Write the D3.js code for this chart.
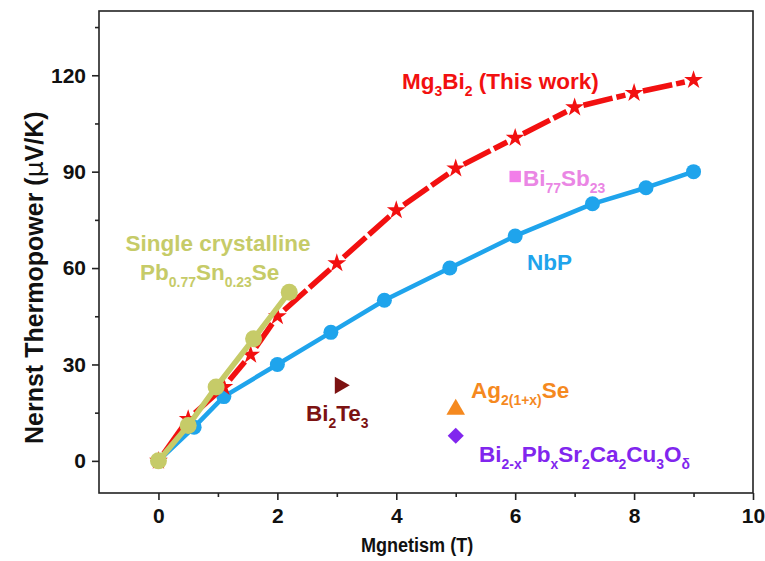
<!DOCTYPE html>
<html>
<head>
<meta charset="utf-8">
<script src="https://cdn.jsdelivr.net/npm/d3@7"></script>
<style>
  html, body { margin: 0; padding: 0; background: #fff; }
  svg { display: block; font-family: "Liberation Sans", Arial, sans-serif; font-weight: bold; }
</style>
</head>
<body>
<svg id="chart" width="765" height="561"></svg>
<script>
// Field (T) and Nernst thermopower (µV/K) for each material
const mg3bi2Field = [0, 0.5, 1.1, 1.55, 2, 3, 4, 5, 6, 7, 8, 9];
const mg3bi2Nernst = [0, 13, 23, 33, 45, 61.5, 78, 91, 100.5, 110, 114.5, 118.5];

const nbpField = [0, 0.6, 1.1, 2, 2.9, 3.8, 4.9, 6, 7.3, 8.2, 9];
const nbpNernst = [0, 10.5, 20, 30, 40, 50, 60, 70, 80, 85, 90];

const pbsnseField = [0, 0.5, 0.97, 1.6, 2.2];
const pbsnseNernst = [0, 11, 23, 38, 52.5];

// Single reported values
const singleNames = ["Bi2Te3", "Bi77Sb23", "Ag2(1+x)Se", "Bi2-xPbxSr2Ca2Cu3Oδ"];
const singleField = [3.05, 6, 5, 5];
const singleNernst = [23.5, 88.5, 16, 7.8];

const xTicks = [0, 2, 4, 6, 8, 10];
const yTicks = [0, 30, 60, 90, 120];

const colors = {
  mg3bi2: "#f21010",
  nbp: "#1fa4ec",
  pbsnse: "#c6cb68",
  bi2te3: "#7c1212",
  bisb: "#f27ee9",
  ag2se: "#f5891f",
  bscco: "#8126ee"
};

const svg = d3.select("#chart");
const margin = { left: 99, top: 11, right: 12, bottom: 68 };
const W = 765, H = 561;
const iw = W - margin.left - margin.right;
const ih = H - margin.top - margin.bottom;

const x = d3.scaleLinear().domain([-1, 10]).range([0, iw]);
const y = d3.scaleLinear().domain([-10, 140]).range([ih, 0]);

const g = svg.append("g").attr("transform", `translate(${margin.left},${margin.top})`);

// Frame
g.append("rect").attr("x", 0).attr("y", 0).attr("width", iw).attr("height", ih)
  .attr("fill", "none").attr("stroke", "#222").attr("stroke-width", 1.6);

// Axes with major + minor ticks
const xAxis = d3.axisBottom(x).tickValues(xTicks).tickSize(7).tickPadding(8).tickFormat(d3.format("d"));
const xMinor = d3.axisBottom(x).tickValues([1, 3, 5, 7, 9]).tickSize(4).tickFormat("");
const yAxis = d3.axisLeft(y).tickValues(yTicks).tickSize(7).tickPadding(6).tickFormat(d3.format("d"));
const yMinor = d3.axisLeft(y).tickValues([15, 45, 75, 105, 135]).tickSize(4).tickFormat("");

function styleAxis(sel) {
  sel.select(".domain").remove();
  sel.selectAll("line").attr("stroke", "#222").attr("stroke-width", 1.6);
  sel.selectAll("text").attr("fill", "#111").attr("font-size", 21).attr("font-weight", "bold")
    .attr("font-family", "'Liberation Sans', Arial, sans-serif");
}
g.append("g").attr("transform", `translate(0,${ih})`).call(xAxis).call(styleAxis);
g.append("g").attr("transform", `translate(0,${ih})`).call(xMinor).call(styleAxis);
g.append("g").call(yAxis).call(styleAxis);
g.append("g").call(yMinor).call(styleAxis);

// Axis titles (x title set in a slightly condensed face)
svg.append("text")
  .attr("transform", `translate(${margin.left + x(4.35)},552) scale(0.86,1)`)
  .attr("text-anchor", "middle").attr("font-size", 21).attr("fill", "#111")
  .text("Mgnetism (T)");
const yt = svg.append("text")
  .attr("transform", `translate(43,${margin.top + y(57)}) rotate(-90)`)
  .attr("text-anchor", "middle").attr("font-size", 25).attr("fill", "#111");
yt.append("tspan").text("Nernst Thermopower (");
yt.append("tspan").attr("font-family", "'DejaVu Sans', sans-serif").attr("font-weight", "normal").text("μ");
yt.append("tspan").text("V/K)");

// Series
function pts(xs, ys) { return xs.map((v, i) => [v, ys[i]]); }
const line = d3.line().x(d => x(d[0])).y(d => y(d[1]));

// NbP
const nbp = pts(nbpField, nbpNernst);
g.append("path").datum(nbp).attr("d", line).attr("fill", "none")
  .attr("stroke", colors.nbp).attr("stroke-width", 4.5).attr("stroke-linejoin", "round");
g.selectAll(".nbp").data(nbp).enter().append("circle")
  .attr("cx", d => x(d[0])).attr("cy", d => y(d[1])).attr("r", 7.5).attr("fill", colors.nbp);

// Mg3Bi2: dashed segments broken around each star
const mg = pts(mg3bi2Field, mg3bi2Nernst);
const gap = 9;
for (let i = 0; i < mg.length - 1; i++) {
  const x0 = x(mg[i][0]), y0 = y(mg[i][1]), x1 = x(mg[i + 1][0]), y1 = y(mg[i + 1][1]);
  const len = Math.hypot(x1 - x0, y1 - y0);
  if (len <= 2 * gap) continue;
  const ux = (x1 - x0) / len, uy = (y1 - y0) / len;
  g.append("line")
    .attr("x1", x0 + ux * gap).attr("y1", y0 + uy * gap)
    .attr("x2", x1 - ux * gap).attr("y2", y1 - uy * gap)
    .attr("stroke", colors.mg3bi2).attr("stroke-width", 5.5)
    .attr("stroke-dasharray", len > 60 ? "30,4" : null);
}
g.selectAll(".mg").data(mg).enter().append("path")
  .attr("transform", d => `translate(${x(d[0])},${y(d[1])})`)
  .attr("d", d3.symbol(d3.symbolStar, 110)).attr("fill", colors.mg3bi2);

// Pb0.77Sn0.23Se
const pb = pts(pbsnseField, pbsnseNernst);
g.append("path").datum(pb).attr("d", line).attr("fill", "none")
  .attr("stroke", colors.pbsnse).attr("stroke-width", 5.5).attr("stroke-linejoin", "round");
g.selectAll(".pb").data(pb).enter().append("circle")
  .attr("cx", d => x(d[0])).attr("cy", d => y(d[1])).attr("r", 8.5).attr("fill", colors.pbsnse);

// Single points
const singleSym = [
  { type: d3.symbolTriangle, size: 130, rot: 90, color: colors.bi2te3 },
  { type: d3.symbolSquare, size: 130, rot: 0, color: colors.bisb },
  { type: d3.symbolTriangle, size: 150, rot: 0, color: colors.ag2se },
  { type: d3.symbolSquare, size: 130, rot: 45, color: colors.bscco }
];
singleNames.forEach((n, i) => {
  const s = singleSym[i];
  g.append("path")
    .attr("transform", `translate(${x(singleField[i])},${y(singleNernst[i])}) rotate(${s.rot})`)
    .attr("d", d3.symbol(s.type, s.size)).attr("fill", s.color);
});

// Labels with subscripts
function label(px, py, parts, color, size, anchor) {
  const t = svg.append("text").attr("x", px).attr("y", py).attr("fill", color)
    .attr("font-size", size).attr("text-anchor", anchor || "start");
  let shifted = false;
  parts.forEach(p => {
    const sub = Array.isArray(p);
    const s = t.append("tspan").text(sub ? p[0] : p);
    if (sub && !shifted) { s.attr("dy", size * 0.33).attr("font-size", size * 0.62); shifted = true; }
    else if (sub) { s.attr("font-size", size * 0.62); }
    else if (shifted) { s.attr("dy", -size * 0.33); shifted = false; }
  });
  return t;
}
const fs = 22.5;
label(402, 89, ["Mg", ["3"], "Bi", ["2"], " (This work)"], colors.mg3bi2, fs);
label(523, 186, ["Bi", ["77"], "Sb", ["23"]], "#ea86e4", fs);
label(527, 270, ["NbP"], colors.nbp, fs);
label(218, 251, ["Single crystalline"], colors.pbsnse, fs, "middle");
label(140, 280, ["Pb", ["0.77"], "Sn", ["0.23"], "Se"], colors.pbsnse, fs);
label(306, 421, ["Bi", ["2"], "Te", ["3"]], colors.bi2te3, fs);
label(471, 398, ["Ag", ["2(1+x)"], "Se"], colors.ag2se, fs);
label(479, 462, ["Bi", ["2-x"], "Pb", ["x"], "Sr", ["2"], "Ca", ["2"], "Cu", ["3"], "O", ["δ"]], colors.bscco, fs);
</script>
</body>
</html>
